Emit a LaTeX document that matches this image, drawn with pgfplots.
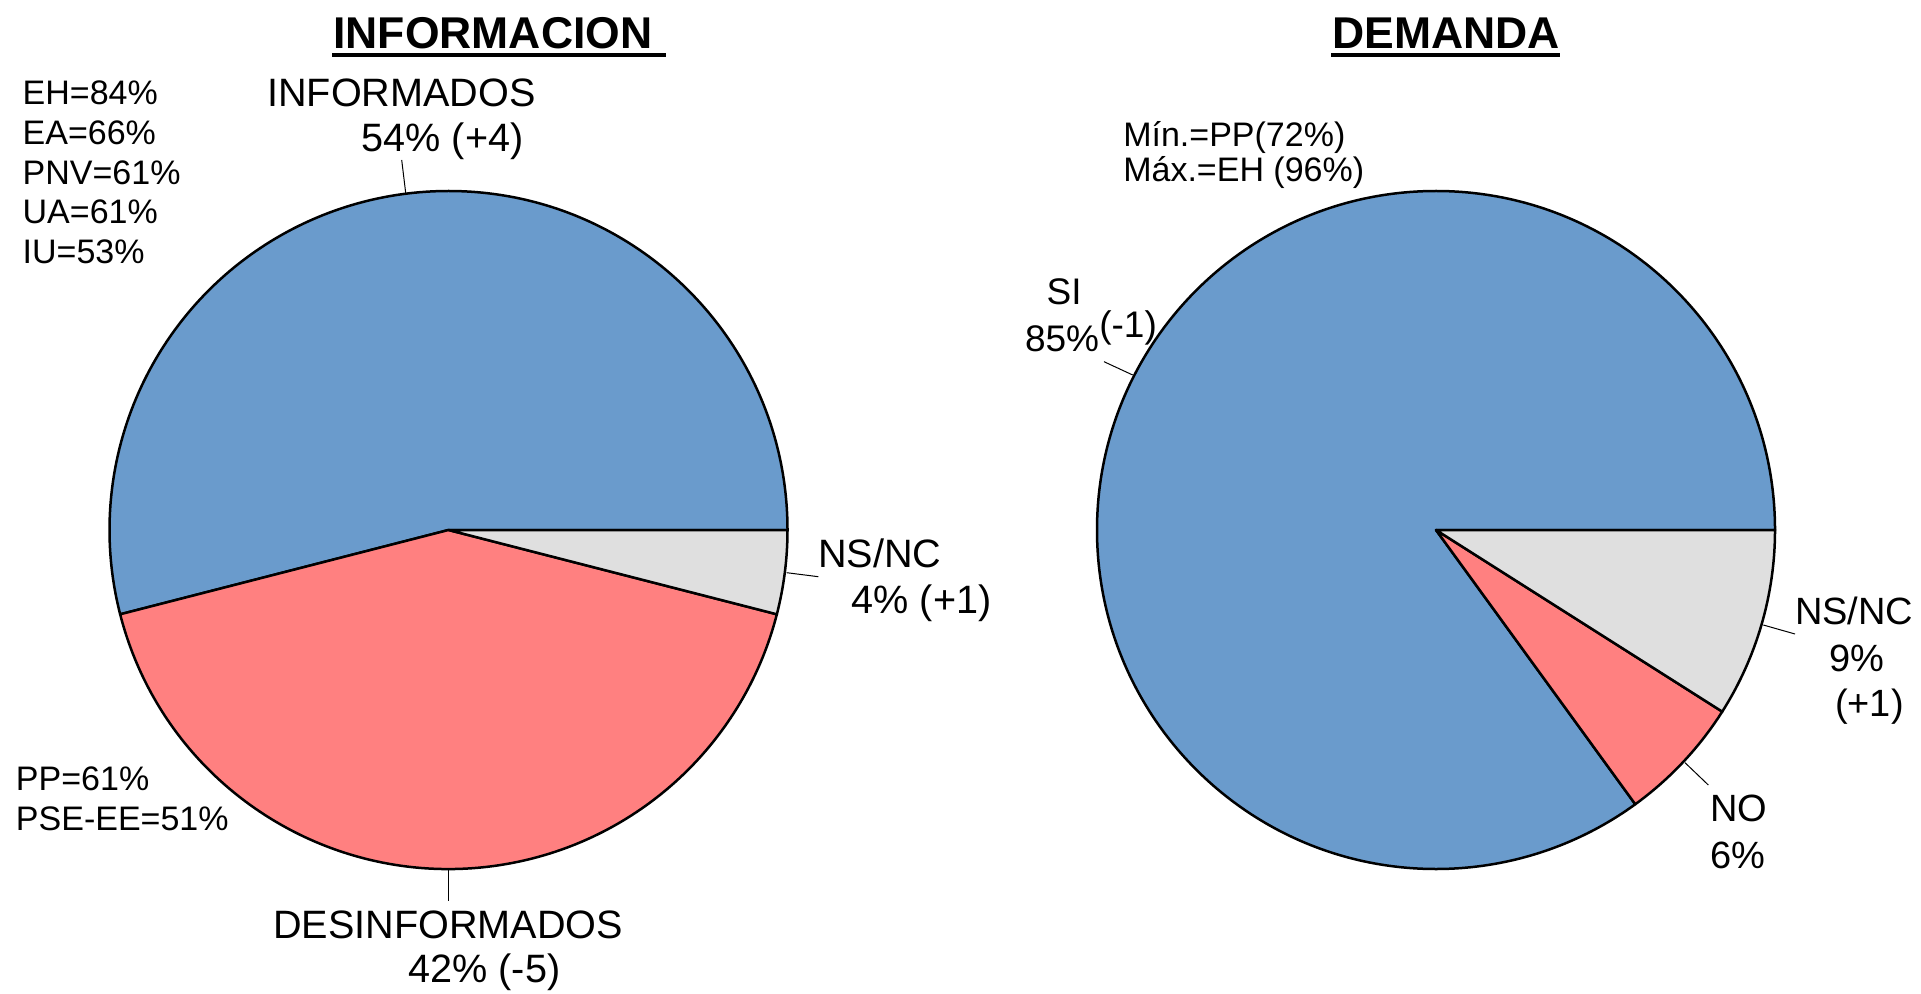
\documentclass[border=0pt]{standalone}
\usepackage{pgfplots}
\usepackage{pgfplotstable}
\pgfplotsset{compat=1.18}
\usepackage{fontspec}
\setmainfont{Liberation Sans}
\definecolor{pblue}{HTML}{6A9BCC}
\definecolor{pred}{HTML}{FF8080}
\definecolor{pgrey}{HTML}{DFDFDF}

% shares of each pie (percent)
\pgfplotstableread{
label pct
INFORMADOS 54
DESINFORMADOS 42
NSNC 4
}\tinfo
\pgfplotstableread{
label pct
SI 85
NO 6
NSNC 9
}\tdem

\newcommand{\slice}[5]{% cx cy startangle endangle colour
  \filldraw[fill=#5, draw=black, line width=1.25pt, line join=round]
    (axis cs:#1,#2) -- ++(#3:169.5pt) arc[start angle=#3, end angle=#4, radius=169.5pt] -- cycle;}
\newcommand{\lab}[4]{% x baseline size text
  \node[anchor=base west, inner sep=0pt, outer sep=0pt, font=\fontsize{#3}{#3}\selectfont] at (axis cs:#1,#2) {#4};}

\begin{document}%
\begin{tikzpicture}
\pgfplotstablegetelem{0}{pct}\of\tinfo \let\iA\pgfplotsretval
\pgfplotstablegetelem{1}{pct}\of\tinfo \let\iB\pgfplotsretval
\pgfplotstablegetelem{0}{pct}\of\tdem \let\dA\pgfplotsretval
\pgfplotstablegetelem{1}{pct}\of\tdem \let\dB\pgfplotsretval
\pgfmathsetmacro\angIA{3.6*\iA}
\pgfmathsetmacro\angIB{3.6*(\iA+\iB)}
\pgfmathsetmacro\angDA{3.6*\dA}
\pgfmathsetmacro\angDB{3.6*(\dA+\dB)}
\begin{axis}[scale only axis, width=960.5pt, height=497pt,
  xmin=0, xmax=1921, ymin=0, ymax=994, y dir=reverse,
  hide axis, clip=false]
\path (axis cs:0,0) rectangle (axis cs:1921,994);
% INFORMACION pie
\slice{448.5}{530}{0}{\angIA}{pblue}
\slice{448.5}{530}{\angIA}{\angIB}{pred}
\slice{448.5}{530}{\angIB}{360}{pgrey}
% DEMANDA pie
\slice{1436}{530}{0}{\angDA}{pblue}
\slice{1436}{530}{\angDA}{\angDB}{pred}
\slice{1436}{530}{\angDB}{360}{pgrey}

% titles
\node[anchor=base west, inner sep=0pt, font=\fontsize{22.25}{22.25}\selectfont\bfseries] at (axis cs:333,48.5) {INFORMACION};
\draw[line width=2.3pt] (axis cs:332,55) -- (axis cs:666,55);
\node[anchor=base west, inner sep=0pt, font=\fontsize{22.25}{22.25}\selectfont\bfseries] at (axis cs:1332,48.5) {DEMANDA};
\draw[line width=2.3pt] (axis cs:1331,55) -- (axis cs:1560,55);

% left labels
\lab{267.3}{106.7}{19.8}{INFORMADOS}
\lab{361.7}{151.7}{19.8}{54\% (+4)}
\draw[line width=0.5pt] (axis cs:401.7,160) -- (axis cs:405.7,193);
\lab{22.7}{105}{17}{EH=84\%}
\lab{22.7}{144.6}{17}{EA=66\%}
\lab{22.7}{184.2}{17}{PNV=61\%}
\lab{22.7}{223.8}{17}{UA=61\%}
\lab{22.7}{263.4}{17}{IU=53\%}
\lab{818.3}{567.7}{19.8}{NS/NC}
\lab{851.7}{613.3}{19.8}{4\% (+1)}
\draw[line width=0.5pt] (axis cs:786.7,572.7) -- (axis cs:818.3,576.7);
\lab{16}{790.7}{17}{PP=61\%}
\lab{16}{830}{17}{PSE-EE=51\%}
\lab{273.2}{938.4}{19.8}{DESINFORMADOS}
\lab{408.5}{982.7}{19.8}{42\% (-5)}
\draw[line width=0.5pt] (axis cs:448.5,869) -- (axis cs:448.5,901);

% right labels
\lab{1123.3}{146.7}{17}{Mín.=PP(72\%)}
\lab{1123.3}{181.7}{17}{Máx.=EH (96\%)}
\lab{1046.7}{305}{18.5}{SI}
\lab{1025}{351.7}{18.5}{85\%}
\lab{1099.3}{338}{18.5}{(-1)}
\draw[line width=0.5pt] (axis cs:1104,361.7) -- (axis cs:1132.7,375);
\lab{1795}{624}{19}{NS/NC}
\lab{1829.3}{671.7}{19}{9\%}
\lab{1835}{716}{19}{(+1)}
\draw[line width=0.5pt] (axis cs:1763.3,625) -- (axis cs:1795,634);
\lab{1710}{821.7}{19}{NO}
\lab{1710}{868.3}{19}{6\%}
\draw[line width=0.5pt] (axis cs:1685,762.7) -- (axis cs:1708.3,785);
\end{axis}
\end{tikzpicture}%
\end{document}
